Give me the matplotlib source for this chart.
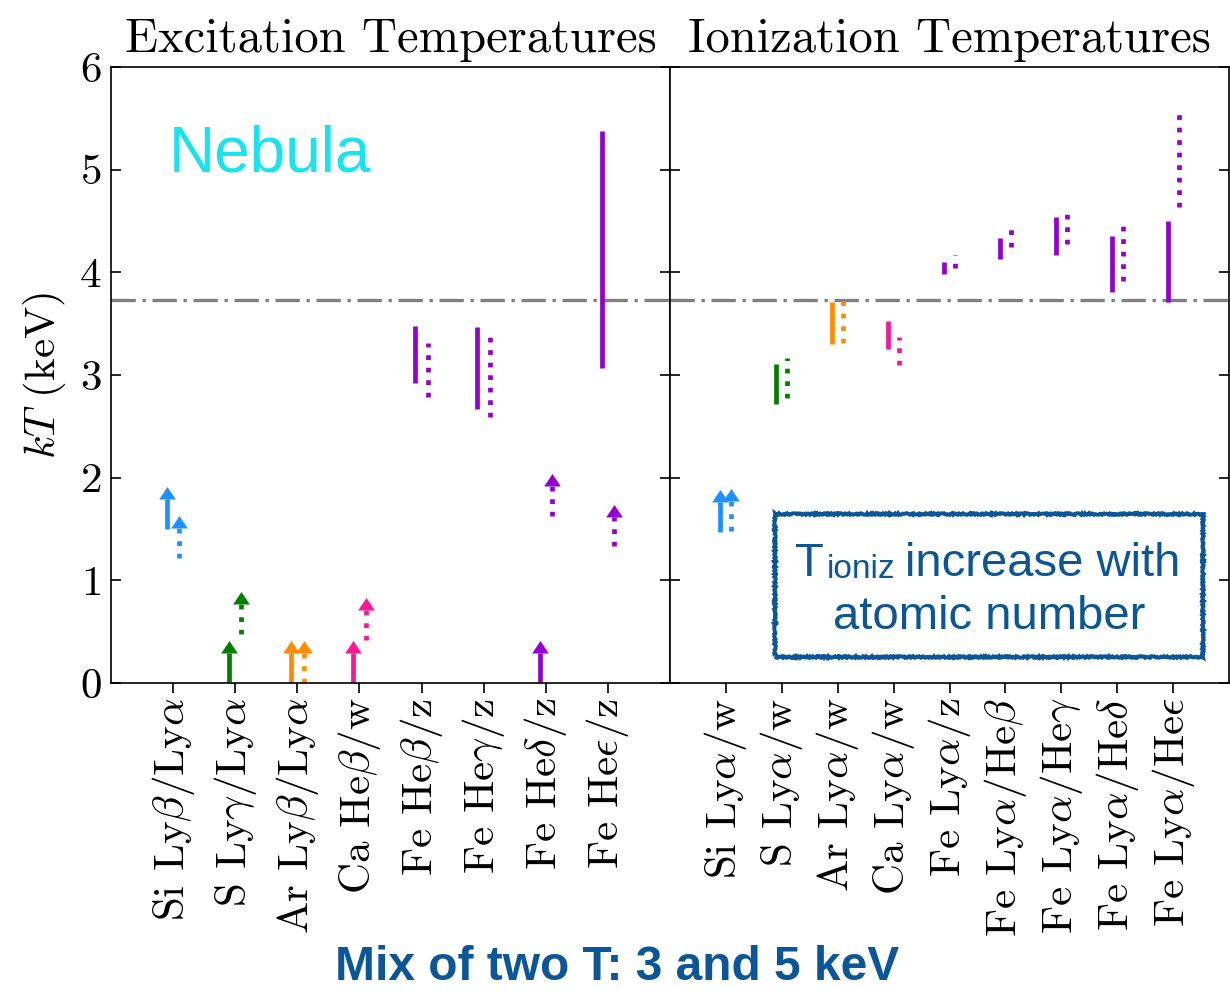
import numpy as np
import matplotlib
matplotlib.use("Agg")
import matplotlib.pyplot as plt
from matplotlib.path import Path
from matplotlib.patches import Rectangle

plt.rcParams["font.family"] = ["cmr10", "DejaVu Serif"]
plt.rcParams["mathtext.fontset"] = "cm"
plt.rcParams["axes.formatter.use_mathtext"] = True
plt.rcParams["axes.unicode_minus"] = False

nan = np.nan

# ---- excitation temperatures (keV); hi = nan marks a lower limit ----
excit_labels = [r"Si Ly$\beta$/Ly$\alpha$", r"S Ly$\gamma$/Ly$\alpha$",
                r"Ar Ly$\beta$/Ly$\alpha$", r"Ca He$\beta$/w",
                r"Fe He$\beta$/z", r"Fe He$\gamma$/z",
                r"Fe He$\delta$/z", r"Fe He$\epsilon$/z"]
excit_elements = ["Si", "S", "Ar", "Ca", "Fe", "Fe", "Fe", "Fe"]
excit_solid_lo = [1.50, 0.00, 0.00, 0.00, 2.92, 2.665, 0.00, 3.07]
excit_solid_hi = [nan, nan, nan, nan, 3.48, 3.47, nan, 5.38]
excit_dot_lo = [1.22, 0.48, 0.00, 0.42, 2.79, 2.59, 1.63, 1.33]
excit_dot_hi = [nan, nan, nan, nan, 3.31, 3.37, nan, nan]

# ---- ionization temperatures (keV) ----
ioniz_labels = [r"Si Ly$\alpha$/w", r"S Ly$\alpha$/w", r"Ar Ly$\alpha$/w",
                r"Ca Ly$\alpha$/w", r"Fe Ly$\alpha$/z",
                r"Fe Ly$\alpha$/He$\beta$", r"Fe Ly$\alpha$/He$\gamma$",
                r"Fe Ly$\alpha$/He$\delta$", r"Fe Ly$\alpha$/He$\epsilon$"]
ioniz_elements = ["Si", "S", "Ar", "Ca", "Fe", "Fe", "Fe", "Fe", "Fe"]
ioniz_solid_lo = [1.47, 2.715, 3.30, 3.25, 3.985, 4.13, 4.17, 3.81, 3.71]
ioniz_solid_hi = [nan, 3.11, 3.71, 3.53, 4.105, 4.33, 4.535, 4.355, 4.50]
ioniz_dot_lo = [1.48, 2.78, 3.31, 3.10, 4.04, 4.25, 4.28, 3.92, 4.64]
ioniz_dot_hi = [nan, 3.17, 3.72, 3.37, 4.17, 4.42, 4.59, 4.47, 5.58]

kt_reference = 3.73

element_colors = {"Si": "#1E90FF", "S": "#008000", "Ar": "#FF8C00",
                  "Ca": "#FF1493", "Fe": "#9400D3"}

# style
LW = 3.4
OFFSET = 0.1
STEM = 0.29          # keV, arrow shaft length
HEAD_W, HEAD_H = 12.0, 9.0   # points
HEAD = Path([(-HEAD_W / HEAD_H / 2, 0.0), (HEAD_W / HEAD_H / 2, 0.0),
             (0.0, 1.0), (-HEAD_W / HEAD_H / 2, 0.0)],
            [Path.MOVETO, Path.LINETO, Path.LINETO, Path.CLOSEPOLY])
BLUE_TEXT = "#0B5699"

W_PX, H_PX = 1230, 991


def fpos(x, y):
    return x / W_PX, 1 - y / H_PX


def draw_entry(ax, x, lo, hi, color, ls):
    if np.isnan(hi):
        top = lo + STEM
        ax.plot([x, x], [lo, top], color=color, lw=LW, ls=ls,
                solid_capstyle="butt", dash_capstyle="butt")
        ax.plot([x], [top], ls="none", marker=HEAD, ms=2 * HEAD_H,
                color=color, mew=0)
    else:
        ax.plot([x, x], [lo, hi], color=color, lw=LW, ls=ls,
                solid_capstyle="butt", dash_capstyle="butt")


def draw_panel(ax, labels, elements, s_lo, s_hi, d_lo, d_hi, title):
    for i, el in enumerate(elements):
        c = element_colors[el]
        draw_entry(ax, i - OFFSET, s_lo[i], s_hi[i], c, "-")
        draw_entry(ax, i + OFFSET, d_lo[i], d_hi[i], c, ":")
    ax.axhline(kt_reference, color="#808080", lw=2.4,
               ls=(0, (7.3, 2.0, 1.0, 2.0)), zorder=1)
    ax.set_xlim(-1, len(labels))
    ax.set_xticks(range(len(labels)))
    ax.set_xticklabels(labels, rotation=90, fontsize=31)
    ax.set_title(title, fontsize=35, pad=11)
    ax.tick_params(axis="x", direction="out", length=7, width=1.2, top=False)
    ax.tick_params(axis="y", direction="in", length=7, width=1.2,
                   left=True, right=True, labelsize=31, pad=7)
    for sp in ax.spines.values():
        sp.set_linewidth(1.2)


fig = plt.figure(figsize=(12.3, 9.91), dpi=100)
L, R = 111 / W_PX, 1229 / W_PX
B, T = 1 - 683 / H_PX, 1 - 67 / H_PX
PW = (R - L) / 2
ax1 = fig.add_axes([L, B, PW, T - B])
ax2 = fig.add_axes([L + PW, B, PW, T - B], sharey=ax1)

draw_panel(ax1, excit_labels, excit_elements, excit_solid_lo, excit_solid_hi,
           excit_dot_lo, excit_dot_hi, "Excitation Temperatures")
draw_panel(ax2, ioniz_labels, ioniz_elements, ioniz_solid_lo, ioniz_solid_hi,
           ioniz_dot_lo, ioniz_dot_hi, "Ionization Temperatures")

ax1.set_ylim(0, 6)
ax1.set_yticks(range(0, 7))
ax1.set_ylabel(r"$kT$ (keV)", fontsize=31, labelpad=8)
ax2.tick_params(axis="y", labelleft=False)

# annotations
sans = "Liberation Sans"
fig.text(*fpos(169, 172), "Nebula", fontsize=46, color="#18E4EE",
         family=sans, ha="left", va="baseline")

box = Rectangle(fpos(775, 657), 428 / W_PX, 143 / H_PX, transform=fig.transFigure,
                fill=False, edgecolor=BLUE_TEXT, lw=2.8)
box.set_sketch_params(scale=0.8, length=3, randomness=3)
fig.patches.append(box)
fig.text(*fpos(795, 576), "T", fontsize=34, color=BLUE_TEXT, family=sans,
         ha="left", va="baseline")
fig.text(*fpos(827, 578), "ioniz", fontsize=24, color=BLUE_TEXT, family=sans,
         ha="left", va="baseline")
fig.text(*fpos(1043, 576), "increase with", fontsize=34, color=BLUE_TEXT,
         family=sans, ha="center", va="baseline")
fig.text(*fpos(989, 629), "atomic number", fontsize=34, color=BLUE_TEXT,
         family=sans, ha="center", va="baseline")

fig.text(*fpos(617, 990), "Mix of two T: 3 and 5 keV", fontsize=34.5,
         color=BLUE_TEXT, family=sans, weight="bold", ha="center",
         va="bottom")

fig.savefig("out.png", dpi=100)
